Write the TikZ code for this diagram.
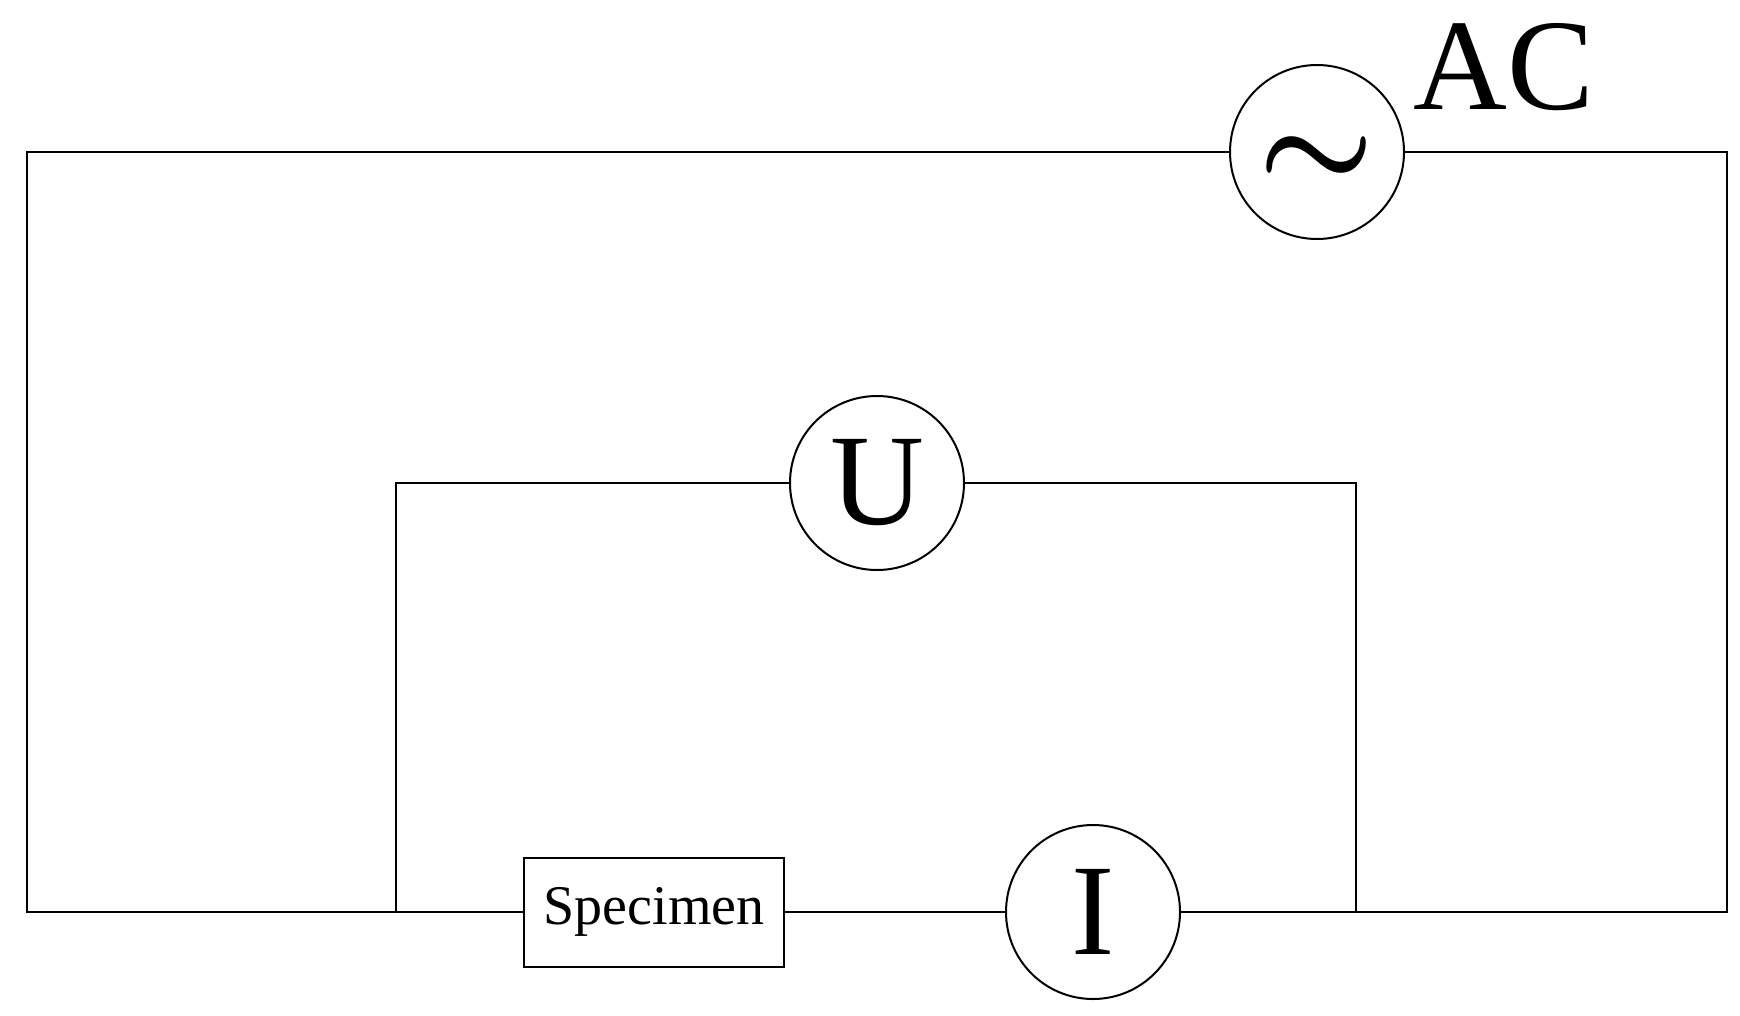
\documentclass[tikz,border=0pt]{standalone}
\usepackage{fontspec}
\usepackage{graphicx}
\setmainfont{Liberation Serif}
\begin{document}
\begin{tikzpicture}[x=1pt,y=-1pt,line width=2pt,
 meter/.style={draw,circle,minimum size=174pt,inner sep=0pt,fill=white},
 bigtxt/.style={font=\fontsize{130}{130}\selectfont}]
\useasboundingbox (0,0) rectangle (1740,1015);
\coordinate (TL) at (27,152); \coordinate (TR) at (1727,152);
\coordinate (BL) at (27,912); \coordinate (BR) at (1727,912);
\coordinate (IL) at (396,912); \coordinate (IR) at (1356,912);
\coordinate (ITL) at (396,483); \coordinate (ITR) at (1356,483);
\draw (TL) -- (TR) -- (BR) -- (BL) -- cycle;
\draw (IL) -- (ITL) -- (ITR) -- (IR);
\node[meter] (ac) at (1317,152) {};
\node at ([yshift=-10pt]ac.center) {\scalebox{13}{\mathversion{bold}$\sim$}};
\node[meter,bigtxt] (u) at (877,483) {U};
\node[meter,bigtxt] (i) at (1093,912) {I};
\node[draw,fill=white,minimum width=260pt,minimum height=109pt,inner sep=0pt,font=\fontsize{56}{56}\selectfont] (sp) at (654,912) {Specimen};
\node[bigtxt,anchor=center] (lab) at (1504,67) {AC};
\end{tikzpicture}
\end{document}
